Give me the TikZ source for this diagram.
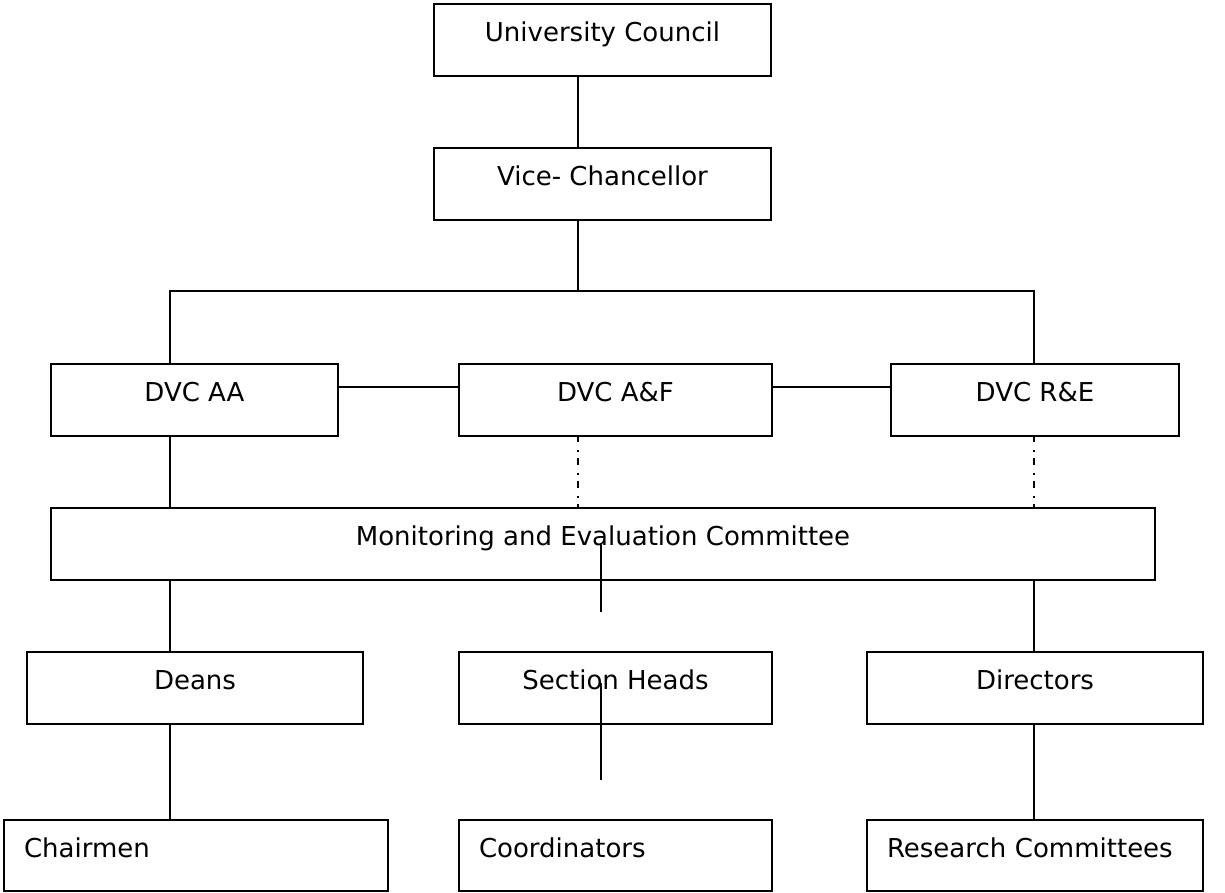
\documentclass[tikz,border=0pt]{standalone}
\usepackage{fontspec}
\setmainfont{DejaVu Sans}
\begin{document}
\begin{tikzpicture}[x=1pt,y=-1pt,
  every node/.style={font=\fontsize{26}{31}\selectfont},
  box/.style={draw, line width=2pt, anchor=north west, inner xsep=0pt, inner ysep=0pt,
    text height=37pt, text depth=35pt},
  lbox/.style={draw, line width=2pt, anchor=north west, inner xsep=20pt, inner ysep=0pt,
    text height=37pt, text depth=34pt, align=left},
  conn/.style={line width=2pt},
  dashdot/.style={line width=2pt, dash pattern=on 7pt off 8pt on 2pt off 6pt, dash phase=2pt}]
\useasboundingbox (0,0) rectangle (1225,892);
\coordinate (xmid) at (578,0);
\coordinate (xl) at (170,0);
\coordinate (xr) at (1034,0);
\coordinate (yc) at (0,387);
\coordinate (J) at (578,291);
\coordinate (s1a) at (601,543);
\coordinate (s1b) at (601,612);
\coordinate (s2a) at (601,683);
\coordinate (s2b) at (601,780);

\node[box, minimum width=337pt] (UC) at (433,3) {University Council};
\node[box, minimum width=337pt] (VC) at (433,147) {Vice- Chancellor};
\node[box, minimum width=287pt] (AA) at (50,363) {DVC AA};
\node[box, minimum width=313pt] (AF) at (458,363) {DVC A\&F};
\node[box, minimum width=288pt] (RE) at (890,363) {DVC R\&E};
\node[box, minimum width=1104pt] (ME) at (50,507) {Monitoring and Evaluation Committee};
\node[box, minimum width=336pt] (DE) at (26,651) {Deans};
\node[box, minimum width=313pt] (SH) at (458,651) {Section Heads};
\node[box, minimum width=336pt] (DI) at (866,651) {Directors};
\node[lbox, text width=344pt] (CH) at (3,819) {Chairmen};
\node[lbox, text width=273pt] (CO) at (458,819) {Coordinators};
\node[lbox, text width=296pt] (RC) at (866,819) {Research Committees};

\draw[conn] (UC.south -| xmid) -- (VC.north -| xmid);
\draw[conn] (VC.south -| xmid) -- (J);
\draw[conn] (AA.north -| xl) |- (J) -| (RE.north -| xr);
\draw[conn] (AA.east |- yc) -- (AF.west |- yc);
\draw[conn] (AF.east |- yc) -- (RE.west |- yc);
\draw[conn] (AA.south -| xl) -- (ME.north -| xl);
\draw[dashdot] (AF.south -| xmid) -- (ME.north -| xmid);
\draw[dashdot] (RE.south -| xr) -- (ME.north -| xr);
\draw[conn] (s1a) -- (s1b);
\draw[conn] (ME.south -| xl) -- (DE.north -| xl);
\draw[conn] (ME.south -| xr) -- (DI.north -| xr);
\draw[conn] (s2a) -- (s2b);
\draw[conn] (DE.south -| xl) -- (CH.north -| xl);
\draw[conn] (DI.south -| xr) -- (RC.north -| xr);
\end{tikzpicture}
\end{document}
